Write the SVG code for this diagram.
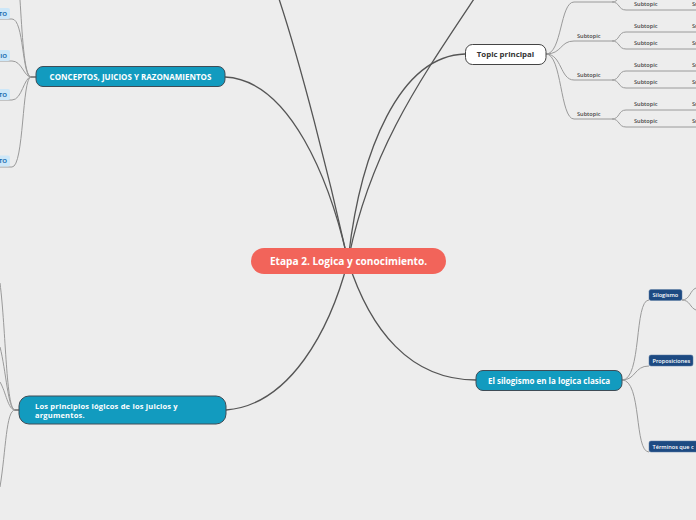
<svg xmlns="http://www.w3.org/2000/svg" width="696" height="520" viewBox="0 0 696 520">
<style>
.main{fill:none;stroke:#555;stroke-width:1.3}
.br{fill:none;stroke:#9a9a9a;stroke-width:1}
.topic{fill:#129bbf;stroke:#3f4c56;stroke-width:1}
.tw{font-family:"Open Sans",sans-serif;font-weight:bold;fill:#fff}
.sub{font-family:"Open Sans",sans-serif;font-weight:600;font-size:5.6px;fill:#444}
.lb{fill:#cde7f8}
.lbt{font-family:"Open Sans",sans-serif;font-weight:bold;font-size:6px;fill:#1a6fb0}
.db{fill:#1d4a82;stroke:#5a7aa0;stroke-width:0.5}
.dbt{font-family:"Open Sans",sans-serif;font-weight:600;font-size:5.6px;fill:#fff}
</style>
<rect width="696" height="520" fill="#ededed"/>
<g id="connectors">
<path class="main" d="M348,261 C 330,180 300,60 276,-10"/>
<path class="main" d="M348,261 C 370,150 420,80 480,-10"/>
<path class="main" d="M348,261 C 360,150 400,56 465,54"/>
<path class="main" d="M225,77 C 290,80 330,180 348,261"/>
<path class="main" d="M226,410 C 290,405 330,330 348,261"/>
<path class="main" d="M476,380 C 410,380 370,330 348,261"/>
<path class="main" d="M30,77 L36,77"/>
<path class="br" d="M20,0 C 22,30 24,77 31,77"/>
<path class="br" d="M0,19 L12,19 C 24,19 22,77 31,77"/>
<path class="br" d="M0,61 L12,61 C 22,61 24,77 31,77"/>
<path class="br" d="M0,100 L12,100 C 22,100 24,77 31,77"/>
<path class="br" d="M0,167 L12,167 C 24,167 22,77 31,77"/>
<path class="main" d="M14,410 L19,410"/>
<path class="br" d="M0,283 C 6,330 6,410 15,410"/>
<path class="br" d="M0,347 C 6,370 8,410 15,410"/>
<path class="br" d="M0,382 C 6,392 8,410 15,410"/>
<path class="br" d="M0,487 C 6,450 6,410 15,410"/>
<path class="br" d="M546,54 C 562,54 560,2 574,2 L612,2"/>
<path class="br" d="M546,54 C 562,54 560,41 574,41 L612,41"/>
<path class="br" d="M546,54 C 562,54 560,80 574,80 L612,80"/>
<path class="br" d="M546,54 C 562,54 560,119 574,119 L612,119"/>
<path class="br" d="M612,2 C 620,2 618,-7 626,-7 L696,-7"/>
<path class="br" d="M612,2 C 620,2 618,10 626,10 L696,10"/>
<path class="br" d="M612,41 C 620,41 618,32 626,32 L696,32"/>
<path class="br" d="M612,41 C 620,41 618,49 626,49 L696,49"/>
<path class="br" d="M612,80 C 620,80 618,71 626,71 L696,71"/>
<path class="br" d="M612,80 C 620,80 618,88 626,88 L696,88"/>
<path class="br" d="M612,119 C 620,119 618,110 626,110 L696,110"/>
<path class="br" d="M612,119 C 620,119 618,127 626,127 L696,127"/>
<path class="br" d="M622,380 C 642,380 634,300 649,300"/>
<path class="br" d="M622,380 C 636,380 634,366 649,366"/>
<path class="br" d="M622,380 C 642,380 634,452 649,452"/>
<path class="br" d="M682,300 C 690,300 690,290 696,288"/>
<path class="br" d="M682,300 C 690,300 690,308 696,310"/>
</g>
<g id="center">
<rect x="251" y="248" width="195" height="26" rx="13" fill="#f2645a"/>
<text class="tw" x="348.5" y="265" font-size="10.1" text-anchor="middle">Etapa 2. Logica y conocimiento.</text>
</g>
<g id="conceptos">
<rect class="topic" x="36" y="66.5" width="189" height="20" rx="7"/>
<text class="tw" x="130.5" y="79.8" font-size="8" text-anchor="middle">CONCEPTOS, JUICIOS Y RAZONAMIENTOS</text>
</g>
<g id="principios">
<rect class="topic" x="19" y="396" width="207" height="28" rx="10"/>
<text class="tw" x="35" y="409" font-size="7.5" letter-spacing="0.2">Los principios lógicos de los juicios y</text>
<text class="tw" x="35" y="417.5" font-size="7.5" letter-spacing="0.2">argumentos.</text>
</g>
<g id="silogismo-clasica">
<rect class="topic" x="476" y="370.5" width="146" height="20" rx="7"/>
<text class="tw" x="549" y="383.5" font-size="8" text-anchor="middle">El silogismo en la logica clasica</text>
</g>
<g id="topic-principal">
<rect x="465.5" y="44.5" width="80.5" height="20" rx="7" fill="#fff" stroke="#444" stroke-width="1"/>
<text x="505.5" y="57.3" font-family="'Open Sans',sans-serif" font-weight="bold" font-size="7.85" fill="#333" text-anchor="middle">Topic principal</text>
</g>
<g id="left-nodes">
<rect class="lb" x="-20" y="8" width="30" height="11" rx="2"/>
<text class="lbt" x="7" y="15.8" text-anchor="end">TO</text>
<rect class="lb" x="-20" y="50" width="30" height="11" rx="2"/>
<text class="lbt" x="7" y="57.8" text-anchor="end">IO</text>
<rect class="lb" x="-20" y="89" width="30" height="11" rx="2"/>
<text class="lbt" x="7" y="96.8" text-anchor="end">TO</text>
<rect class="lb" x="-20" y="155.5" width="30" height="11" rx="2"/>
<text class="lbt" x="7" y="163.3" text-anchor="end">TO</text>
</g>
<g id="subtopics">
<text class="sub" x="577" y="37.5">Subtopic</text>
<text class="sub" x="577" y="76.5">Subtopic</text>
<text class="sub" x="577" y="115.5">Subtopic</text>
<text class="sub" x="634" y="6">Subtopic</text>
<text class="sub" x="634" y="28">Subtopic</text>
<text class="sub" x="634" y="45">Subtopic</text>
<text class="sub" x="634" y="67">Subtopic</text>
<text class="sub" x="634" y="84">Subtopic</text>
<text class="sub" x="634" y="106">Subtopic</text>
<text class="sub" x="634" y="123">Subtopic</text>
<text class="sub" x="692" y="6">Subtopic</text>
<text class="sub" x="692" y="28">Subtopic</text>
<text class="sub" x="692" y="45">Subtopic</text>
<text class="sub" x="692" y="67">Subtopic</text>
<text class="sub" x="692" y="84">Subtopic</text>
<text class="sub" x="692" y="106">Subtopic</text>
<text class="sub" x="692" y="123">Subtopic</text>
</g>
<g id="silogismo">
<rect class="db" x="649" y="289.5" width="33" height="11" rx="2"/>
<text class="dbt" x="652.5" y="297">Silogismo</text>
</g>
<g id="proposiciones">
<rect class="db" x="649" y="355" width="44" height="11" rx="2"/>
<text class="dbt" x="652.5" y="362.5">Proposiciones</text>
</g>
<g id="terminos">
<rect class="db" x="649" y="441" width="60" height="11" rx="2"/>
<text class="dbt" x="652.5" y="448.5">Términos que c</text>
</g>
</svg>
